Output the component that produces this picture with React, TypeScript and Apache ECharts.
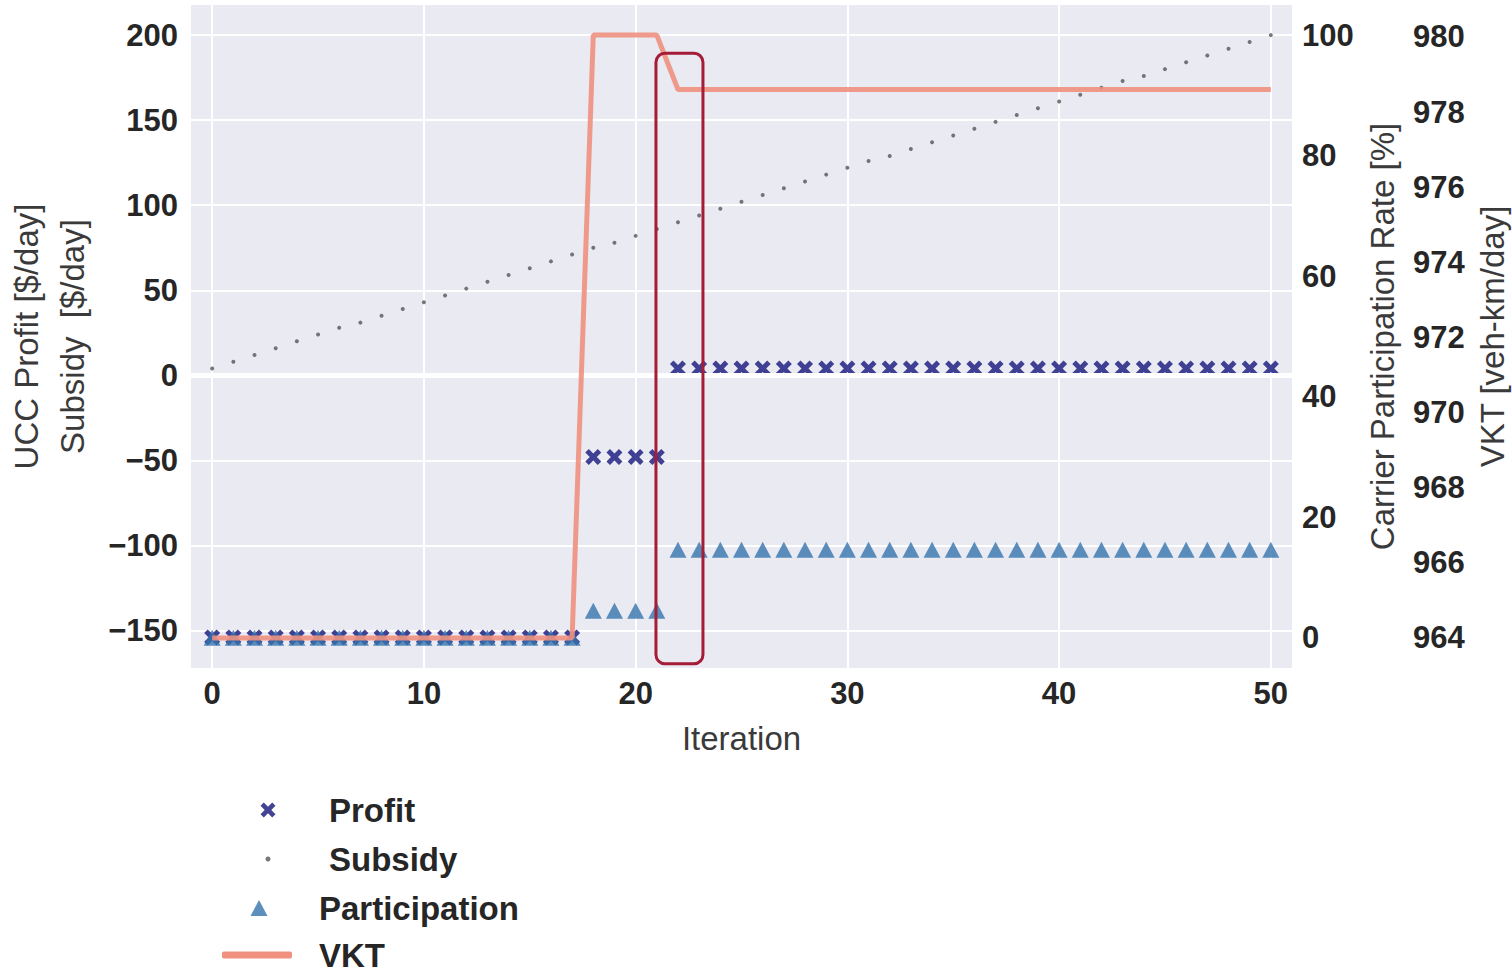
import React, { useEffect, useRef } from "react";
import * as echarts from "echarts";

// ---------- data ----------
const iterations = [
  0, 1, 2, 3, 4, 5, 6, 7, 8, 9, 10, 11, 12, 13, 14, 15, 16, 17, 18, 19, 20,
  21, 22, 23, 24, 25, 26, 27, 28, 29, 30, 31, 32, 33, 34, 35, 36, 37, 38, 39,
  40, 41, 42, 43, 44, 45, 46, 47, 48, 49, 50,
];

const subsidy = [
  4, 8, 12, 16, 20, 24, 28, 31, 35, 39, 43, 47, 51, 55, 59, 63, 67, 71, 75, 78,
  82, 86, 90, 94, 98, 102, 106, 110, 114, 118, 122, 126, 129, 133, 137, 141,
  145, 149, 153, 157, 161, 165, 169, 173, 176, 180, 184, 188, 192, 196, 200,
];

const profit = [
  -154, -154, -154, -154, -154, -154, -154, -154, -154, -154, -154, -154, -154,
  -154, -154, -154, -154, -154, -48, -48, -48, -48, 4, 4, 4, 4, 4, 4, 4, 4, 4,
  4, 4, 4, 4, 4, 4, 4, 4, 4, 4, 4, 4, 4, 4, 4, 4, 4, 4, 4, 4,
];

const participation = [
  0, 0, 0, 0, 0, 0, 0, 0, 0, 0, 0, 0, 0, 0, 0, 0, 0, 0, 4.5, 4.5, 4.5, 4.5,
  14.6, 14.6, 14.6, 14.6, 14.6, 14.6, 14.6, 14.6, 14.6, 14.6, 14.6, 14.6, 14.6,
  14.6, 14.6, 14.6, 14.6, 14.6, 14.6, 14.6, 14.6, 14.6, 14.6, 14.6, 14.6, 14.6,
  14.6, 14.6, 14.6,
];

const vkt = [
  964.0, 964.0, 964.0, 964.0, 964.0, 964.0, 964.0, 964.0, 964.0, 964.0, 964.0,
  964.0, 964.0, 964.0, 964.0, 964.0, 964.0, 964.0, 980.05, 980.05, 980.05,
  980.05, 978.6, 978.6, 978.6, 978.6, 978.6, 978.6, 978.6, 978.6, 978.6, 978.6,
  978.6, 978.6, 978.6, 978.6, 978.6, 978.6, 978.6, 978.6, 978.6, 978.6, 978.6,
  978.6, 978.6, 978.6, 978.6, 978.6, 978.6, 978.6, 978.6,
];

// highlighted window (iterations) on the participation axis
const highlightX = [20.96, 23.18];
const highlightY = [97, -4.3];

// ---------- styles ----------
const FONT = "'Liberation Sans', Arial, Helvetica, sans-serif";
const NAVY = "#14147c";
const STEEL = "#3573ad";
const SALMON = "#F0907F";
const GRAY_DOT = "#555555";
const CROSS =
  "path://M0,2.2 L2.2,0 L5,2.8 L7.8,0 L10,2.2 L7.2,5 L10,7.8 L7.8,10 L5,7.2 L2.2,10 L0,7.8 L2.8,5 Z";

const minusFmt = (v: number) => String(v).replace("-", "\u2212");

const tickLabel = {
  fontFamily: FONT,
  fontSize: 31,
  fontWeight: "bold" as const,
  color: "#262626",
  formatter: minusFmt,
};
const nameStyle = {
  fontFamily: FONT,
  fontSize: 33,
  color: "#3a3a3a",
};
const legendText = {
  fontFamily: FONT,
  fontSize: 33,
  fontWeight: "bold" as const,
  color: "#262626",
  lineHeight: 34,
};

export default function App() {
  const ref = useRef<HTMLDivElement>(null);

  useEffect(() => {
    document.body.style.margin = "0";
    if (!ref.current) return;
    const chart = echarts.init(ref.current, undefined, { renderer: "svg" });

    const pairs = (ys: number[]) => iterations.map((x, i) => [x, ys[i]]);

    const option: any = {
      animation: false,
      backgroundColor: "#ffffff",
      grid: {
        left: 191,
        right: 220,
        top: 5,
        bottom: 305,
        show: true,
        backgroundColor: "#EAEAF2",
        borderWidth: 0,
        containLabel: false,
        outerBoundsMode: "none",
      },
      xAxis: {
        type: "value",
        min: -1,
        max: 51,
        minInterval: 10,
        maxInterval: 10,
        name: "Iteration",
        nameLocation: "middle",
        nameGap: 54,
        nameTextStyle: nameStyle,
        axisLine: { show: false },
        axisTick: { show: false },
        axisLabel: {
          ...tickLabel,
          margin: 10,
          showMinLabel: false,
          showMaxLabel: false,
        },
        splitLine: {
          show: true,
          showMinLine: false,
          showMaxLine: false,
          lineStyle: { color: "#ffffff", width: 2 },
        },
      },
      yAxis: [
        {
          type: "value",
          position: "left",
          min: -172,
          max: 217.7,
          minInterval: 50,
          maxInterval: 50,
          name: "UCC Profit [$/day]\nSubsidy  [$/day]",
          nameLocation: "middle",
          nameRotate: 90,
          nameGap: 96,
          nameTextStyle: { ...nameStyle, lineHeight: 46 },
          axisLine: { show: false },
          axisTick: { show: false },
          axisLabel: {
            ...tickLabel,
            margin: 13,
            showMinLabel: false,
            showMaxLabel: false,
          },
          splitLine: {
            show: true,
            showMinLine: false,
            showMaxLine: false,
            lineStyle: { color: "#ffffff", width: 2 },
          },
        },
        {
          type: "value",
          position: "right",
          min: -5,
          max: 105,
          minInterval: 20,
          maxInterval: 20,
          name: "Carrier Participation Rate [%]",
          nameLocation: "middle",
          nameRotate: 90,
          nameGap: 70,
          nameMoveOverlap: false,
          nameTextStyle: { ...nameStyle, lineHeight: 40 },
          axisLine: { show: false },
          axisTick: { show: false },
          axisLabel: {
            ...tickLabel,
            margin: 10,
            showMinLabel: false,
            showMaxLabel: false,
          },
          splitLine: { show: false },
        },
        {
          type: "value",
          position: "right",
          offset: 111,
          min: 963.2,
          max: 980.85,
          minInterval: 2,
          maxInterval: 2,
          name: "VKT [veh-km/day]",
          nameLocation: "middle",
          nameRotate: 90,
          nameGap: 69,
          nameMoveOverlap: false,
          nameTextStyle: { ...nameStyle, lineHeight: 40 },
          axisLine: { show: false },
          axisTick: { show: false },
          axisLabel: {
            ...tickLabel,
            margin: 10,
            showMinLabel: false,
            showMaxLabel: false,
          },
          splitLine: { show: false },
        },
      ],
      legend: [
        {
          left: 260.5,
          top: 793,
          padding: 0,
          itemWidth: 15,
          itemHeight: 15,
          data: [{ name: "Profit", icon: CROSS, itemStyle: { color: NAVY } }],
          textStyle: { ...legendText, padding: [0, 0, 0, 48.5] },
        },
        {
          left: 265.5,
          top: 842,
          padding: 0,
          itemWidth: 5,
          itemHeight: 5,
          data: [
            { name: "Subsidy", icon: "circle", itemStyle: { color: GRAY_DOT } },
          ],
          textStyle: { ...legendText, padding: [0, 0, 0, 53.5] },
        },
        {
          left: 250.5,
          top: 891,
          padding: 0,
          itemWidth: 17,
          itemHeight: 16,
          data: [
            {
              name: "Participation",
              icon: "triangle",
              itemStyle: { color: STEEL },
            },
          ],
          textStyle: { ...legendText, padding: [0, 0, 0, 46.5] },
        },
        {
          left: 222,
          top: 938,
          padding: 0,
          itemWidth: 70,
          itemHeight: 7,
          data: [
            {
              name: "VKT",
              icon: "roundRect",
              itemStyle: { color: SALMON },
            },
          ],
          textStyle: { ...legendText, padding: [0, 0, 0, 22] },
        },
      ],
      series: [
        {
          name: "Subsidy",
          type: "scatter",
          xAxisIndex: 0,
          yAxisIndex: 0,
          symbol: "circle",
          symbolSize: 4,
          itemStyle: { color: GRAY_DOT },
          data: pairs(subsidy),
          markLine: {
            silent: true,
            symbol: "none",
            label: { show: false },
            lineStyle: { color: "#ffffff", width: 5, type: "solid" },
            data: [{ yAxis: 0 }],
          },
        },
        {
          name: "Profit",
          type: "scatter",
          xAxisIndex: 0,
          yAxisIndex: 0,
          symbol: CROSS,
          symbolSize: 16,
          itemStyle: { color: NAVY },
          data: pairs(profit),
        },
        {
          name: "Participation",
          type: "scatter",
          xAxisIndex: 0,
          yAxisIndex: 1,
          symbol: "triangle",
          symbolSize: [17, 16],
          itemStyle: { color: STEEL },
          data: pairs(participation),
        },
        {
          name: "VKT",
          type: "line",
          xAxisIndex: 0,
          yAxisIndex: 2,
          symbol: "none",
          showSymbol: false,
          lineStyle: { color: SALMON, width: 5, opacity: 0.9 },
          itemStyle: { color: SALMON },
          data: pairs(vkt),
          z: 5,
        },
      ],
    };

    chart.setOption(option);

    const x0 = chart.convertToPixel({ xAxisIndex: 0 }, highlightX[0]) as number;
    const x1 = chart.convertToPixel({ xAxisIndex: 0 }, highlightX[1]) as number;
    const y0 = chart.convertToPixel({ yAxisIndex: 1 }, highlightY[0]) as number;
    const y1 = chart.convertToPixel({ yAxisIndex: 1 }, highlightY[1]) as number;

    chart.setOption({
      graphic: [
        {
          type: "rect",
          z: 100,
          silent: true,
          shape: { x: x0, y: y0, width: x1 - x0, height: y1 - y0, r: 9 },
          style: { fill: "none", stroke: "#A51C36", lineWidth: 3 },
        },
      ],
    });

    return () => chart.dispose();
  }, []);

  return (
    <div
      ref={ref}
      style={{ position: "absolute", left: 0, top: 0, width: 1512, height: 973 }}
    />
  );
}
